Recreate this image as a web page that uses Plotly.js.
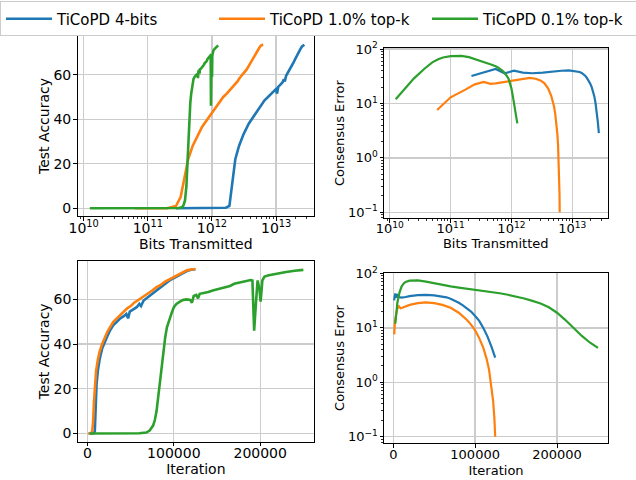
<!DOCTYPE html>
<html>
<head>
<meta charset="utf-8">
<script src="https://cdn.plot.ly/plotly-3.0.1.min.js"></script>
<style>html,body{margin:0;padding:0;background:#fff}#chart{width:636px;height:480px}</style>
</head>
<body>
<div id="chart"></div>
<script>
// ---------------- data ----------------
const seriesNames = ["TiCoPD 4-bits", "TiCoPD 1.0% top-k", "TiCoPD 0.1% top-k"];

// Test accuracy vs iteration / bits transmitted
const blueAccIter = [1250, 5000, 7500, 8500, 9500, 10500, 12000, 14000, 17000, 20000, 23000, 26000, 30000, 34000, 38000, 42000, 45000, 47000, 49000, 53000, 57000, 60000, 62000, 65000, 70000, 75000, 80000, 85000, 90000, 95000, 100000, 105000, 110000, 115000, 120000, 125000];
const blueAccBits = [2.75e11, 1.1e12, 1.65e12, 1.87e12, 2.09e12, 2.31e12, 2.64e12, 3.08e12, 3.74e12, 4.4e12, 5.06e12, 5.72e12, 6.6e12, 7.48e12, 8.36e12, 9.24e12, 9.9e12, 1.034e13, 1.078e13, 1.166e13, 1.254e13, 1.32e13, 1.364e13, 1.43e13, 1.54e13, 1.65e13, 1.76e13, 1.87e13, 1.98e13, 2.09e13, 2.2e13, 2.31e13, 2.42e13, 2.53e13, 2.64e13, 2.75e13];
const blueAcc = [0, 0, 0.2, 1, 12, 22, 28, 33, 38, 41, 43.5, 46, 48.5, 50, 51.5, 52.5, 53.5, 51.5, 54.5, 55.5, 56.5, 58, 57, 59.5, 61, 62.5, 64, 65.5, 67, 68.5, 69.5, 70.5, 71.8, 72.7, 73.3, 73.5];

const orangeAccIter = [1250, 4000, 5500, 6500, 7500, 8500, 10000, 12000, 14000, 17000, 20000, 23000, 26000, 30000, 34000, 38000, 42000, 46000, 50000, 54000, 58000, 62000, 66000, 70000, 75000, 80000, 85000, 90000, 95000, 100000, 105000, 110000, 115000, 120000, 125000];
const orangeAccBits = [6.25e10, 2e11, 2.75e11, 3.25e11, 3.75e11, 4.25e11, 5e11, 6e11, 7e11, 8.5e11, 1e12, 1.15e12, 1.3e12, 1.5e12, 1.7e12, 1.9e12, 2.1e12, 2.3e12, 2.5e12, 2.7e12, 2.9e12, 3.1e12, 3.3e12, 3.5e12, 3.75e12, 4e12, 4.25e12, 4.5e12, 4.75e12, 5e12, 5.25e12, 5.5e12, 5.75e12, 6e12, 6.25e12];
const orangeAcc = [0, 0, 1, 5, 14, 22, 28, 33, 36.5, 40, 43, 45.5, 47.5, 50, 51.5, 53, 54.5, 56, 57, 58.5, 59.5, 60.5, 61.5, 62.5, 64, 65.5, 66.5, 68, 69, 70.2, 71.2, 72.2, 73, 73.4, 73.6];

const greenAccIter = [2500, 20000, 40000, 60000, 68000, 72000, 76000, 78000, 80000, 82000, 84000, 86000, 88000, 90000, 92000, 95000, 98000, 100000, 103000, 107000, 111000, 115000, 119000, 121000, 123000, 126000, 128000, 130000, 135000, 140000, 145000, 150000, 155000, 160000, 165000, 170000, 175000, 180000, 185000, 189000, 191000, 193000, 195000, 197000, 199000, 200500, 202500, 205000, 210000, 220000, 230000, 240000, 250000];
const greenAccBits = [1.25e10, 1e11, 2e11, 3e11, 3.4e11, 3.6e11, 3.8e11, 3.9e11, 4e11, 4.1e11, 4.2e11, 4.3e11, 4.4e11, 4.5e11, 4.6e11, 4.75e11, 4.9e11, 5e11, 5.15e11, 5.35e11, 5.55e11, 5.75e11, 5.95e11, 6.05e11, 6.15e11, 6.3e11, 6.4e11, 6.5e11, 6.75e11, 7e11, 7.25e11, 7.5e11, 7.75e11, 8e11, 8.25e11, 8.5e11, 8.75e11, 9e11, 9.25e11, 9.45e11, 9.55e11, 9.65e11, 9.75e11, 9.85e11, 9.95e11, 1.0025e12, 1.0125e12, 1.025e12, 1.05e12, 1.1e12, 1.15e12, 1.2e12, 1.25e12];
const greenAcc = [0, 0, 0, 0.1, 0.4, 1.3, 3.5, 6, 10, 17, 25, 31, 37, 43, 47.5, 51.5, 54.5, 56.5, 58, 59, 59.8, 60, 59.8, 58.5, 61.5, 62, 60.5, 62.5, 62.8, 63.3, 64, 64.5, 65.3, 65.5, 66, 67, 67.5, 68, 68.3, 68.7, 68.5, 46, 58, 68.5, 65, 59, 68.5, 70.2, 70.8, 71.6, 72.3, 72.8, 73.2];

// Consensus error vs iteration / bits transmitted
const blueErrIter = [1000, 2500, 3500, 5000, 7000, 10000, 15000, 20000, 30000, 40000, 50000, 60000, 65000, 70000, 75000, 80000, 85000, 90000, 95000, 100000, 105000, 110000, 115000, 120000, 124500];
const blueErrBits = [2.2e11, 5.5e11, 7.7e11, 1.1e12, 1.54e12, 2.2e12, 3.3e12, 4.4e12, 6.6e12, 8.8e12, 1.1e13, 1.32e13, 1.43e13, 1.54e13, 1.65e13, 1.76e13, 1.87e13, 1.98e13, 2.09e13, 2.2e13, 2.31e13, 2.42e13, 2.53e13, 2.64e13, 2.739e13];
const blueErr = [32, 43, 36, 40, 37, 36, 37, 38.5, 40, 40.5, 39.5, 38, 36.5, 34.5, 32, 29, 26, 23, 20, 16.5, 13.5, 10, 7, 4.5, 2.85];

const orangeErrIter = [1200, 2000, 3500, 5000, 7000, 9000, 11000, 15000, 20000, 30000, 40000, 50000, 60000, 70000, 80000, 90000, 95000, 100000, 105000, 110000, 114000, 117000, 120000, 122000, 123500, 124500];
const orangeErrBits = [6e10, 1e11, 1.75e11, 2.5e11, 3.5e11, 4.5e11, 5.5e11, 7.5e11, 1e12, 1.5e12, 2e12, 2.5e12, 3e12, 3.5e12, 4e12, 4.5e12, 4.75e12, 5e12, 5.25e12, 5.5e12, 5.7e12, 5.85e12, 6e12, 6.1e12, 6.175e12, 6.225e12];
const orangeErr = [7.6, 13, 18, 22.5, 25, 23, 23.5, 25, 26.5, 28.5, 29.5, 28.5, 26.5, 23.5, 19, 14, 11.5, 9, 6.5, 4.3, 2.7, 1.7, 0.85, 0.45, 0.22, 0.1];

const greenErrIter = [2500, 5000, 7500, 10000, 12500, 15000, 20000, 25000, 30000, 40000, 50000, 60000, 70000, 80000, 90000, 100000, 110000, 120000, 130000, 140000, 150000, 160000, 170000, 180000, 190000, 200000, 210000, 220000, 230000, 240000, 250000];
const greenErrBits = [1.25e10, 2.5e10, 3.75e10, 5e10, 6.25e10, 7.5e10, 1e11, 1.25e11, 1.5e11, 2e11, 2.5e11, 3e11, 3.5e11, 4e11, 4.5e11, 5e11, 5.5e11, 6e11, 6.5e11, 7e11, 7.5e11, 8e11, 8.5e11, 9e11, 9.5e11, 1e12, 1.05e12, 1.1e12, 1.15e12, 1.2e12, 1.25e12];
const greenErr = [12, 29, 44, 57, 65, 70, 74, 75.5, 75, 71, 66, 61.5, 58, 55, 52.5, 50.7, 48.4, 45.9, 43.4, 40.7, 37.8, 34.7, 31.4, 28.2, 24, 19, 14.1, 10, 7.2, 5.4, 4.3];

// Tick labels
const bitsTickVals = [1e10, 1e11, 1e12, 1e13];
const bitsTickText = ["10<sup>10</sup>", "10<sup>11</sup>", "10<sup>12</sup>", "10<sup>13</sup>"];
const accTickVals = [0, 20, 40, 60];
const errTickVals = [0.1, 1, 10, 100];
const errTickText = ["10<sup>\u22121</sup>", "10<sup>0</sup>", "10<sup>1</sup>", "10<sup>2</sup>"];
const iterTickVals = [0, 100000, 200000];
const iterTickText = ["0", "100000", "200000"];

// ---------------- chart ----------------
const colors = ["#1f77b4", "#ff7f0e", "#2ca02c"];
const FONT = "DejaVu Sans, Verdana, sans-serif";

function tr(x, y, xa, ya, i, show, w) {
  return {x: x, y: y, xaxis: xa, yaxis: ya, type: "scatter", mode: "lines",
    name: seriesNames[i], legendgroup: "g" + i, showlegend: show,
    line: {color: colors[i], width: w}, hoverinfo: "skip"};
}

const data = [
  tr(blueAccBits, blueAcc, "x", "y", 0, true, 2.6),
  tr(orangeAccBits, orangeAcc, "x", "y", 1, true, 2.6),
  tr(greenAccBits, greenAcc, "x", "y", 2, true, 2.6),
  tr(blueErrBits, blueErr, "x2", "y2", 0, false, 2.2),
  tr(orangeErrBits, orangeErr, "x2", "y2", 1, false, 2.2),
  tr(greenErrBits, greenErr, "x2", "y2", 2, false, 2.2),
  tr(blueAccIter, blueAcc, "x3", "y3", 0, false, 2.6),
  tr(orangeAccIter, orangeAcc, "x3", "y3", 1, false, 2.6),
  tr(greenAccIter, greenAcc, "x3", "y3", 2, false, 2.6),
  tr(blueErrIter, blueErr, "x4", "y4", 0, false, 2.2),
  tr(orangeErrIter, orangeErr, "x4", "y4", 1, false, 2.2),
  tr(greenErrIter, greenErr, "x4", "y4", 2, false, 2.2)
];

function ax(opts, fs) {
  const base = {
    showline: true, mirror: true, linecolor: "#000", linewidth: 1,
    showgrid: true, gridcolor: "#cccccc", gridwidth: 1.3,
    zeroline: false, ticks: "outside", ticklen: 3.5, tickwidth: 1, tickcolor: "#000",
    tickfont: {family: FONT, size: fs, color: "#000"},
    tickmode: "array", fixedrange: true
  };
  const o = Object.assign(base, opts);
  o.title = {text: opts.titleText, font: {family: FONT, size: fs, color: "#000"}, standoff: opts.standoff};
  delete o.titleText; delete o.standoff;
  return o;
}
const minorLog = {ticks: "outside", ticklen: 2, tickwidth: 0.8, tickcolor: "#000", showgrid: false, dtick: "D1"};

const layout = {
  width: 636, height: 480,
  margin: {l: 0, r: 0, t: 0, b: 0},
  paper_bgcolor: "#fff", plot_bgcolor: "#fff",
  font: {family: FONT, size: 14, color: "#000"},
  showlegend: true,
  legend: {orientation: "h", x: 0.002, y: 0.997, xanchor: "left", yanchor: "top",
    bgcolor: "#fff", bordercolor: "#cccccc", borderwidth: 1,
    font: {family: FONT, size: 15, color: "#000"}, itemwidth: 46, entrywidth: 152, traceorder: "normal"},
  xaxis: ax({type: "log", range: [9.905, 13.59], domain: [0.1219, 0.4937], anchor: "y",
    tickvals: bitsTickVals, ticktext: bitsTickText, minor: minorLog, ticklabelstandoff: -4,
    titleText: "Bits Transmitted", standoff: 1}, 14),
  yaxis: ax({range: [-3.5, 77.4], domain: [0.55, 0.925], anchor: "x",
    tickvals: accTickVals, ticklabelstandoff: -1, titleText: "Test Accuracy", standoff: 0}, 14),
  xaxis2: ax({type: "log", range: [9.905, 13.58], domain: [0.6038, 0.9552], anchor: "y2",
    tickvals: bitsTickVals, ticktext: bitsTickText, minor: minorLog, ticklabelstandoff: -5,
    titleText: "Bits Transmitted", standoff: 1}, 13),
  yaxis2: ax({type: "log", range: [-1.11, 2.02], domain: [0.5452, 0.9], anchor: "x2",
    tickvals: errTickVals, ticktext: errTickText, minor: minorLog, ticklabelstandoff: -1,
    titleText: "Consensus Error", standoff: 0}, 13),
  xaxis3: ax({range: [-11300, 262300], domain: [0.1222, 0.4937], anchor: "y3",
    tickvals: iterTickVals, ticktext: iterTickText, ticklabelstandoff: -5,
    titleText: "Iteration", standoff: 4}, 14),
  yaxis3: ax({range: [-3.7, 77.2], domain: [0.0798, 0.4563], anchor: "x3",
    tickvals: accTickVals, ticklabelstandoff: -1, titleText: "Test Accuracy", standoff: 0}, 14),
  xaxis4: ax({range: [-11300, 262300], domain: [0.6038, 0.956], anchor: "y4",
    tickvals: iterTickVals, ticktext: iterTickText, ticklabelstandoff: -4,
    titleText: "Iteration", standoff: 4}, 13),
  yaxis4: ax({type: "log", range: [-1.12, 2.015], domain: [0.0765, 0.4319], anchor: "x4",
    tickvals: errTickVals, ticktext: errTickText, minor: minorLog, ticklabelstandoff: -1,
    titleText: "Consensus Error", standoff: 0}, 13)
};

Plotly.newPlot("chart", data, layout, {displayModeBar: false, staticPlot: true});
</script>
</body>
</html>
